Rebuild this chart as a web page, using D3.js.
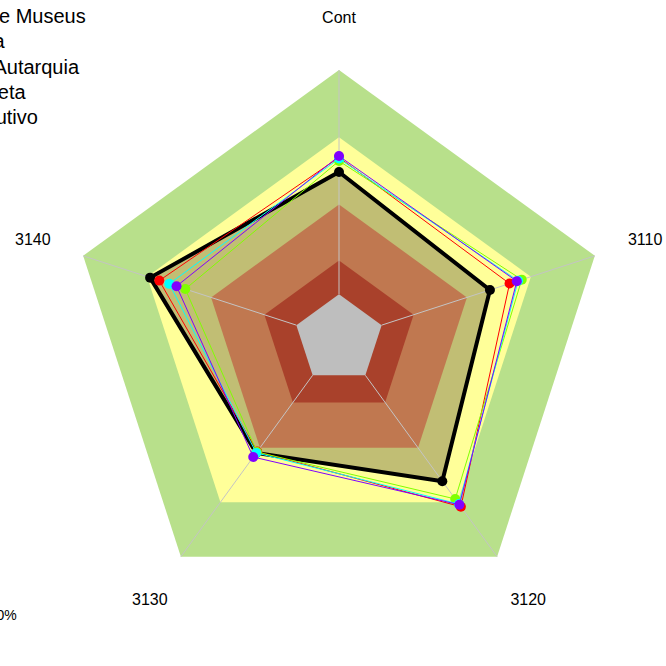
<!DOCTYPE html>
<html>
<head>
<meta charset="utf-8">
<script src="https://cdn.jsdelivr.net/npm/d3@7"></script>
<style>
  body { margin: 0; background: #fff; }
  svg { display: block; font-family: "Liberation Sans", Arial, sans-serif; }
</style>
</head>
<body>
<svg id="chart" width="666" height="666"></svg>
<script>
// axes, clockwise from the top
const axes = ['Cont', '3110', '3120', '3130', '3140'];

// background bands (outer limit of each band, in %)
const bandLevels = [120, 90, 60, 35, 20];
const bandColors = ['#b8e08b', '#ffff99', '#c07850', '#a9412b', '#bebebe'];

// series (same order as axes)
const seriesNames = ['Rede de Museus', 'Máxima', 'Média Autarquia', 'Sem Meta', 'o Executivo'];
const seriesColors = ['#000000', '#ff0000', '#80ff00', '#00ffff', '#8000ff'];
const valMuseus = [74.5, 70.8, 78.4, 62.8, 88.6];
const valMaxima = [81.0, 80.0, 92.5, 62.1, 84.3];
const valAutarquia = [79.4, 85.7, 88.2, 62.3, 72.1];
const valMeta = [80.5, 84.0, 91.0, 62.8, 79.6];
const valExecutivo = [81.6, 83.4, 91.4, 65.1, 76.2];
const seriesValues = [valMuseus, valMaxima, valAutarquia, valMeta, valExecutivo];

const footNote = '100%';

const svg = d3.select('#chart');
const cx = 339;
const cy = 339;
const R = 269;

const r = d3.scaleLinear().domain([0, 120]).range([0, R]);
const angle = d3.scaleLinear().domain([0, axes.length]).range([0, 2 * Math.PI]);

function pt(i, v) {
  const a = angle(i) - Math.PI / 2;
  return [cx + r(v) * Math.cos(a), cy + r(v) * Math.sin(a)];
}

const line = d3.line();
function polygon(vals) {
  return line(vals.map((v, i) => pt(i, v))) + 'Z';
}

// outer two bands
svg.append('path').attr('d', polygon(axes.map(() => bandLevels[0]))).attr('fill', bandColors[0]);
svg.append('path').attr('d', polygon(axes.map(() => bandLevels[1]))).attr('fill', bandColors[1]);

// main series area
svg.append('path').attr('d', polygon(valMuseus)).attr('fill', '#c1be74');

// inner bands
for (let b = 2; b < bandLevels.length; b += 1) {
  svg.append('path')
    .attr('d', polygon(axes.map(() => bandLevels[b])))
    .attr('fill', bandColors[b]);
}

// axis lines
svg.selectAll('line.axis')
  .data(axes)
  .enter()
  .append('line')
  .attr('class', 'axis')
  .attr('x1', (d, i) => pt(i, bandLevels[4])[0])
  .attr('y1', (d, i) => pt(i, bandLevels[4])[1])
  .attr('x2', (d, i) => pt(i, bandLevels[0])[0])
  .attr('y2', (d, i) => pt(i, bandLevels[0])[1])
  .attr('stroke', '#c4c4c4')
  .attr('stroke-width', 1);

// axis labels
svg.selectAll('text.lab')
  .data(axes)
  .enter()
  .append('text')
  .attr('class', 'lab')
  .attr('x', (d, i) => pt(i, 143.6)[0])
  .attr('y', (d, i) => pt(i, 143.6)[1] + 5.5)
  .attr('text-anchor', 'middle')
  .attr('font-size', 16)
  .text(d => d);

// series
seriesValues.forEach((vals, s) => {
  const g = svg.append('g');
  g.append('path')
    .attr('d', polygon(vals))
    .attr('fill', 'none')
    .attr('stroke', seriesColors[s])
    .attr('stroke-width', s === 0 ? 4 : 1)
    .attr('stroke-linejoin', 'miter');
  g.selectAll('circle')
    .data(vals)
    .enter()
    .append('circle')
    .attr('cx', (d, i) => pt(i, d)[0])
    .attr('cy', (d, i) => pt(i, d)[1])
    .attr('r', 5)
    .attr('fill', seriesColors[s]);
});

// legend (runs off the left edge)
svg.selectAll('text.leg')
  .data(seriesNames)
  .enter()
  .append('text')
  .attr('class', 'leg')
  .attr('x', -65.5)
  .attr('y', (d, i) => 23 + i * 25.3)
  .attr('font-size', 20)
  .text(d => d);

svg.append('text')
  .attr('x', -19)
  .attr('y', 620)
  .attr('font-size', 14)
  .text(footNote);
</script>
</body>
</html>
